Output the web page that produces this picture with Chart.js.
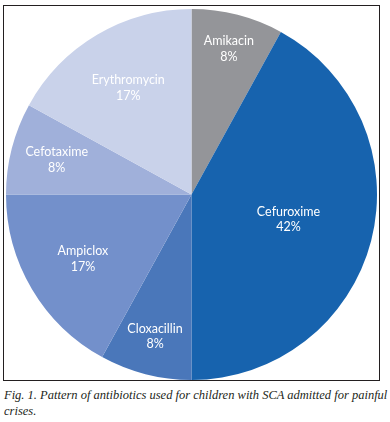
<!DOCTYPE html>
<html>
<head>
<meta charset="utf-8">
<script src="https://cdn.jsdelivr.net/npm/chart.js@4/dist/chart.umd.min.js"></script>
<style>
  html, body { margin: 0; padding: 0; background: #ffffff; }
  body { width: 390px; height: 422px; position: relative; overflow: hidden; }
  #frame { position: absolute; left: 3px; top: 5px; width: 375px; height: 374px; border: 1.5px solid #231f20; }
  #wrap { position: absolute; left: 6px; top: 9px; width: 371px; height: 371px; }
  #caption { position: absolute; left: 4px; top: 387px; width: 376px; font-family: "Liberation Serif", "DejaVu Serif", serif; font-style: italic; font-size: 12.5px; line-height: 16px; color: #231f20; }
  #caption .l1 { display: block; text-align: justify; text-align-last: justify; white-space: nowrap; }
</style>
</head>
<body>
<div id="frame"></div>
<div id="wrap"><canvas id="c"></canvas></div>
<div id="caption"><span class="l1">Fig. 1. Pattern of antibiotics used for children with SCA admitted for painful</span>crises.</div>
<script>
const categories = ["Amikacin", "Cefuroxime", "Cloxacillin", "Ampiclox", "Cefotaxime", "Erythromycin"];
const values = [8, 42, 8, 17, 8, 17];
const colors = ["#949599", "#1763ae", "#4a77ba", "#7390cb", "#a0b0da", "#c9d2ea"];
const labelRadius = [0.81, 0.54, 0.79, 0.68, 0.75, 0.67];

const sliceLabels = {
  id: "sliceLabels",
  afterDatasetsDraw(chart) {
    const ctx = chart.ctx;
    const meta = chart.getDatasetMeta(0);
    const data = chart.data.datasets[0].data;
    const total = data.reduce((a, b) => a + b, 0);
    ctx.save();
    ctx.fillStyle = "#ffffff";
    ctx.textAlign = "center";
    ctx.textBaseline = "middle";
    ctx.font = "12.5px Lato, 'Open Sans', sans-serif";
    meta.data.forEach((arc, i) => {
      const p = arc.getProps(["x", "y", "startAngle", "endAngle", "outerRadius"], true);
      const mid = (p.startAngle + p.endAngle) / 2;
      const r = p.outerRadius * labelRadius[i];
      const x = p.x + Math.cos(mid) * r;
      const y = p.y + Math.sin(mid) * r;
      const pct = Math.round(data[i] / total * 100) + "%";
      ctx.fillText(chart.data.labels[i], x, y - 7.5);
      ctx.fillText(pct, x, y + 8);
    });
    ctx.restore();
  }
};

new Chart(document.getElementById("c"), {
  type: "pie",
  data: {
    labels: categories,
    datasets: [{ data: values, backgroundColor: colors, borderWidth: 0 }]
  },
  options: {
    responsive: true,
    maintainAspectRatio: false,
    animation: false,
    layout: { padding: 0 },
    plugins: { legend: { display: false }, tooltip: { enabled: false } }
  },
  plugins: [sliceLabels]
});
</script>
</body>
</html>
